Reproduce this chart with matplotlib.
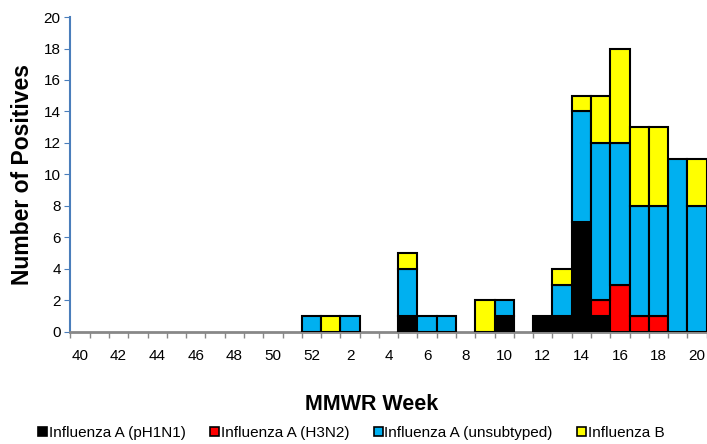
import numpy as np
import matplotlib
matplotlib.use("Agg")
import matplotlib.pyplot as plt
from matplotlib.patches import Patch

# ====================================================
# DATA
# ====================================================

weeks = [40, 41, 42, 43, 44, 45, 46, 47, 48, 49, 50, 51, 52,
         1, 2, 3, 4, 5, 6, 7, 8, 9, 10, 11, 12, 13, 14, 15, 16, 17, 18, 19, 20]

ph1n1 = [0, 0, 0, 0, 0, 0, 0, 0, 0, 0, 0, 0, 0,
         0, 0, 0, 0, 1, 0, 0, 0, 0, 1, 0, 1, 1, 7, 1, 0, 0, 0, 0, 0]
h3n2 = [0, 0, 0, 0, 0, 0, 0, 0, 0, 0, 0, 0, 0,
        0, 0, 0, 0, 0, 0, 0, 0, 0, 0, 0, 0, 0, 0, 1, 3, 1, 1, 0, 0]
unsubtyped = [0, 0, 0, 0, 0, 0, 0, 0, 0, 0, 0, 0, 1,
              0, 1, 0, 0, 3, 1, 1, 0, 0, 1, 0, 0, 2, 7, 10, 9, 7, 7, 11, 8]
flu_b = [0, 0, 0, 0, 0, 0, 0, 0, 0, 0, 0, 0, 0,
         1, 0, 0, 0, 1, 0, 0, 0, 2, 0, 0, 0, 1, 1, 3, 6, 5, 5, 0, 3]

series = [
    ("Influenza A (pH1N1)", ph1n1, "#000000"),
    ("Influenza A (H3N2)", h3n2, "#ff0000"),
    ("Influenza A (unsubtyped)", unsubtyped, "#00b0f0"),
    ("Influenza B", flu_b, "#ffff00"),
]

# ====================================================
# PLOT
# ====================================================

plt.rcParams["font.family"] = ["Liberation Sans", "DejaVu Sans"]

fig = plt.figure(figsize=(7.07, 4.44), dpi=100)
ax = fig.add_axes([0.0996, 0.2523, 0.9, 0.7094])

x = np.arange(len(weeks))
bottom = np.zeros(len(weeks))

for name, vals, color in series:
    vals = np.array(vals, dtype=float)
    mask = vals > 0
    ax.bar(x[mask], vals[mask], width=1.0, bottom=bottom[mask],
           color=color, edgecolor="black", linewidth=1.5, label=name, zorder=3)
    bottom += vals

ax.set_xlim(-0.5, len(weeks) - 0.5)
ax.set_ylim(0, 20)

# y axis
ax.set_yticks(range(0, 21, 2))
ax.tick_params(axis="y", direction="out", length=4, color="#4a7ebb",
               labelsize=11, pad=3)
ax.spines["left"].set_color("#4a7ebb")
ax.spines["left"].set_linewidth(1.5)

# x axis: ticks at boundaries, labels at centers
ax.set_xticks(np.arange(len(weeks) + 1) - 0.5)
ax.set_xticklabels([])
ax.tick_params(axis="x", which="major", direction="out", length=4,
               color="#888888", width=1)
ax.set_xticks(x[::2], minor=True)
ax.set_xticklabels([str(w) for w in weeks[::2]], minor=True)
ax.tick_params(axis="x", which="minor", length=0, labelsize=11, pad=12)
ax.spines["bottom"].set_color("#888888")
ax.spines["bottom"].set_linewidth(2)
ax.spines["top"].set_visible(False)
ax.spines["right"].set_visible(False)

ax.set_ylabel("Number of Positives", fontsize=16.5, fontweight="bold", labelpad=7)
fig.text(0.525, 0.088, "MMWR Week", fontsize=15.5, fontweight="bold",
         ha="center", va="center")

handles = [Patch(facecolor=c, edgecolor="black", linewidth=1.2) for _, _, c in series]
labels = [n for n, _, _ in series]
fig.legend(handles, labels, loc="center", bbox_to_anchor=(0.497, 0.025), ncol=4,
           frameon=False, fontsize=11, handlelength=0.6, handleheight=0.6,
           handletextpad=0.1, columnspacing=1.6, borderpad=0)

fig.savefig("out.png", dpi=100)
